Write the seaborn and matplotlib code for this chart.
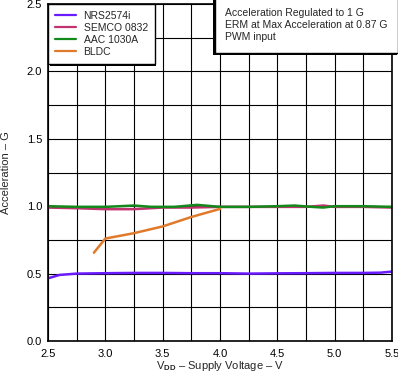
import numpy as np
import pandas as pd
import seaborn as sns
import matplotlib
matplotlib.use("Agg")
import matplotlib.pyplot as plt
import matplotlib.patheffects as pe
from matplotlib.offsetbox import AnchoredText

# Data
nrs_x = [2.5, 2.6, 2.75, 3.0, 3.25, 3.5, 3.75, 4.0, 4.25, 4.5, 4.75, 5.0, 5.25, 5.4, 5.5]
nrs_y = [0.465, 0.49, 0.50, 0.503, 0.505, 0.505, 0.503, 0.503, 0.500, 0.502, 0.503, 0.505, 0.505, 0.507, 0.515]
semco_x = [2.5, 2.75, 3.0, 3.25, 3.5, 3.75, 4.0, 4.25, 4.5, 4.75, 4.9, 5.0, 5.25, 5.5]
semco_y = [0.99, 0.985, 0.978, 0.978, 0.99, 0.99, 0.995, 0.995, 0.995, 0.995, 1.005, 0.995, 0.995, 0.99]
aac_x = [2.5, 2.75, 3.0, 3.25, 3.4, 3.6, 3.8, 4.0, 4.25, 4.5, 4.65, 4.8, 4.9, 5.0, 5.25, 5.5]
aac_y = [1.0, 0.995, 0.995, 1.005, 0.995, 0.995, 1.01, 0.995, 0.995, 1.0, 1.005, 0.995, 0.99, 1.0, 1.0, 0.995]
bldc_x = [2.9, 3.0, 3.25, 3.5, 3.75, 4.0]
bldc_y = [0.655, 0.76, 0.80, 0.85, 0.92, 0.98]

series_names = ["NRS2574i", "SEMCO 0832", "AAC 1030A", "BLDC"]
colors = ["#6a1bff", "#c0336e", "#13891c", "#e07a2a"]

xticks = [2.5, 3.0, 3.5, 4.0, 4.5, 5.0, 5.5]
yticks = [0.0, 0.5, 1.0, 1.5, 2.0, 2.5]

frames = []
for name, xs, ys in zip(series_names, [nrs_x, semco_x, aac_x, bldc_x], [nrs_y, semco_y, aac_y, bldc_y]):
    frames.append(pd.DataFrame({"V": xs, "G": ys, "Device": name}))
df = pd.concat(frames, ignore_index=True)

sns.set_style("white")
plt.rcParams["font.family"] = ["Liberation Sans", "DejaVu Sans"]
plt.rcParams["mathtext.fontset"] = "custom"
plt.rcParams["mathtext.rm"] = "Liberation Sans"
plt.rcParams["mathtext.bf"] = "Liberation Sans:bold"

fig = plt.figure(figsize=(3.98, 3.73), dpi=100)
ax = fig.add_axes([48/398, 1 - 341/373, (392-48)/398, (341-4)/373])

ax.set_xlim(2.5, 5.5)
ax.set_ylim(0, 2.5)
ax.set_xticks(np.arange(2.5, 5.51, 0.25), minor=True)
ax.set_yticks(np.arange(0, 2.51, 0.25), minor=True)
ax.set_xticks(xticks)
ax.set_yticks(yticks)
ax.set_xticklabels([f"{v:.1f}" for v in xticks])
ax.set_yticklabels([f"{v:.1f}" for v in yticks])
ax.grid(True, which="both", color="black", linewidth=0.8)
ax.set_axisbelow(True)

sns.lineplot(data=df, x="V", y="G", hue="Device", hue_order=series_names,
             palette=colors, ax=ax, sort=False, linewidth=1.8, estimator=None)
for line in ax.get_lines():
    if line.get_label() == "BLDC":
        line.set_linewidth(1.3)

ax.tick_params(axis="x", which="both", length=0, labelsize=8, pad=5.5, colors="black")
ax.tick_params(axis="y", which="both", length=0, labelsize=8, pad=4.3, colors="black")
for s in ax.spines.values():
    s.set_color("black")
    s.set_linewidth(1.2)

ax.set_xlabel("V$_{\\mathbf{DD}}$ \u2013 Supply Voltage \u2013 V", fontsize=8, labelpad=0.5)
ax.set_ylabel("Acceleration \u2013 G", fontsize=8)
ax.yaxis.set_label_coords(-0.109, 0.5)

handles, labels = ax.get_legend_handles_labels()
for h in handles:
    h.set_linewidth(1.6)
leg = ax.legend(handles, labels, loc="upper left", borderaxespad=0, fontsize=7.5,
                fancybox=False, edgecolor="black", framealpha=1, handlelength=2.0,
                labelspacing=0.2, borderpad=0.65, handletextpad=0.77)
leg.get_frame().set_linewidth(1.0)
leg.get_frame().set_path_effects([pe.SimplePatchShadow(offset=(1.3, -1.3), shadow_rgbFace="black", alpha=1),
                                  pe.Normal()])

at = AnchoredText("Acceleration Regulated to 1 G\nERM at Max Acceleration at 0.87 G\nPWM input",
                  loc="upper right", borderpad=0, frameon=True,
                  prop=dict(size=7.5, linespacing=1.25))
at.patch.set_edgecolor("black")
at.patch.set_linewidth(1.0)
at.patch.set_boxstyle("square,pad=0.62")
at.patch.set_path_effects([pe.SimplePatchShadow(offset=(-1.3, -1.3), shadow_rgbFace="black", alpha=1),
                           pe.Normal()])
ax.add_artist(at)

fig.savefig("out.png", dpi=100)
